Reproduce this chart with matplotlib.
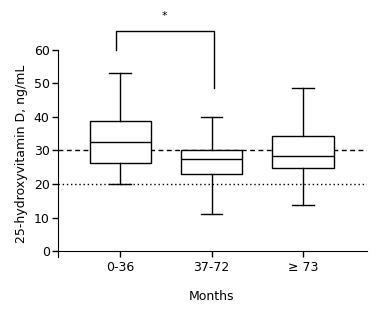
import matplotlib
matplotlib.use('Agg')
import matplotlib.pyplot as plt

# Dane
groups = ['0-36', '37-72', '\u2265 73']
whisker_low = [20.0, 11.0, 13.7]
q1 = [26.3, 23.0, 24.8]
median = [32.5, 27.4, 28.4]
q3 = [38.8, 30.1, 34.3]
whisker_high = [53.1, 40.0, 48.5]

ref_dashed = 30
ref_dotted = 20
bracket_top = 65.5
bracket_left_end = 60
bracket_right_end = 48.5

plt.rcParams['font.family'] = ['DejaVu Sans']
plt.rcParams['font.size'] = 9

fig = plt.figure(figsize=(3.79, 3.12), dpi=100)
ax = fig.add_axes([0.153, 0.176, 0.815, 0.664])

positions = [1, 2, 3]
stats = []
for i in range(len(groups)):
    stats.append({'whislo': whisker_low[i], 'q1': q1[i], 'med': median[i],
                  'q3': q3[i], 'whishi': whisker_high[i], 'fliers': []})

# linie referencyjne
ax.axhline(ref_dashed, color='black', lw=1, ls=(0, (3.5, 2.5)), zorder=1)
ax.axhline(ref_dotted, color='black', lw=1, ls=(0, (1, 2)), zorder=1)

ax.bxp(stats, positions=positions, widths=0.67, showfliers=False, patch_artist=True,
       boxprops=dict(facecolor='white', edgecolor='black', lw=1),
       medianprops=dict(color='black', lw=1),
       whiskerprops=dict(color='black', lw=1),
       capprops=dict(color='black', lw=1), capwidths=0.24,
       zorder=2)

ax.set_xlim(0.32, 3.70)
ax.set_ylim(-1.8, 60)
ax.set_yticks([0, 10, 20, 30, 40, 50, 60])
ax.set_xticks(positions)
ax.set_xticklabels(groups)

ax.spines['top'].set_visible(False)
ax.spines['right'].set_visible(False)
ax.spines['bottom'].set_position(('data', 0))
ax.spines['left'].set_bounds(-1.8, 60)
ax.tick_params(axis='y', direction='out', length=4, width=1, pad=2)
ax.tick_params(axis='x', direction='out', length=4.3, width=1, pad=3)

ax.set_ylabel('25-hydroxyvitamin D, ng/mL', labelpad=4)
ax.text(2, -13.7, 'Months', ha='center', va='center')

# klamra istotnosci
ax.plot([0.95, 0.95, 2.03, 2.03], [bracket_left_end, bracket_top, bracket_top, bracket_right_end],
        color='black', lw=1, clip_on=False)
ax.text(1.49, 70, '*', ha='center', va='center', fontsize=8)

fig.savefig('out.png', dpi=100)
